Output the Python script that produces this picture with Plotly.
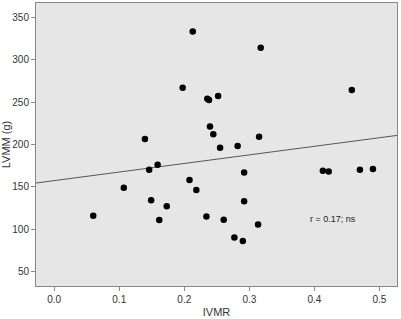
import plotly.graph_objects as go

ivmr = [0.213, 0.1975, 0.1395, 0.3175, 0.4575, 0.2354, 0.238, 0.252, 0.2395, 0.2446,
        0.255, 0.282, 0.315, 0.146, 0.159, 0.107, 0.060, 0.149, 0.173, 0.1615,
        0.208, 0.2185, 0.292, 0.413, 0.422, 0.470, 0.490, 0.292, 0.234, 0.2606,
        0.3134, 0.277, 0.290]
lvmm = [333.6, 267, 206.5, 314.4, 264.3, 254, 252.6, 257.3, 221.3, 212,
        196.3, 198.2, 209.2, 170.1, 176, 149, 115.7, 134, 127, 110.6,
        158, 146.3, 167, 169, 168, 170, 171, 133, 114.9, 111,
        105.3, 90, 86]

# fitted regression line as drawn in the reference (LVMM = intercept + slope * IVMR)
fit_intercept = 157.3
fit_slope = 101.4

x_ticks = [0.0, 0.1, 0.2, 0.3, 0.4, 0.5]
y_ticks = [50, 100, 150, 200, 250, 300, 350]
x_range = [-0.028, 0.527]
y_range = [32.7, 367.3]
annotation_text = "r = 0.17; ns"

line_x = list(x_range)
line_y = [fit_intercept + fit_slope * v for v in line_x]

font_family = "Liberation Sans, Arial"

fig = go.Figure()
fig.add_trace(go.Scatter(x=line_x, y=line_y, mode="lines",
                         line=dict(color="#555555", width=1), hoverinfo="skip"))
fig.add_trace(go.Scatter(x=ivmr, y=lvmm, mode="markers",
                         marker=dict(color="black", size=6.5)))
fig.add_annotation(x=0.429, y=111.4, text=annotation_text, showarrow=False,
                   font=dict(family=font_family, size=9, color="#222222"))

axis_common = dict(showgrid=False, zeroline=False, showline=True, linecolor="#888888",
                   linewidth=1, mirror=True, ticks="outside", ticklen=4, tickcolor="#888888",
                   tickfont=dict(family=font_family, size=10, color="#333333"))
fig.update_xaxes(range=x_range, tickvals=x_ticks, ticktext=[f"{v:.1f}" for v in x_ticks],
                 title=dict(text="IVMR", standoff=4,
                            font=dict(family=font_family, size=11, color="#333333")),
                 **axis_common)
fig.update_yaxes(range=y_range, tickvals=y_ticks,
                 title=dict(text="LVMM (g)", standoff=2,
                            font=dict(family=font_family, size=11, color="#333333")),
                 **axis_common)
fig.update_layout(width=401, height=319, margin=dict(l=36, r=4, t=2, b=32),
                  paper_bgcolor="white", plot_bgcolor="#e6e6e6", showlegend=False)
fig.write_html("out.html", config={"displayModeBar": False})

with open("out.html", "r", encoding="utf-8") as f:
    html = f.read()
html = html.replace("<head>", "<head><style>html,body{margin:0;padding:0;overflow:hidden;}</style>", 1)
with open("out.html", "w", encoding="utf-8") as f:
    f.write(html)
